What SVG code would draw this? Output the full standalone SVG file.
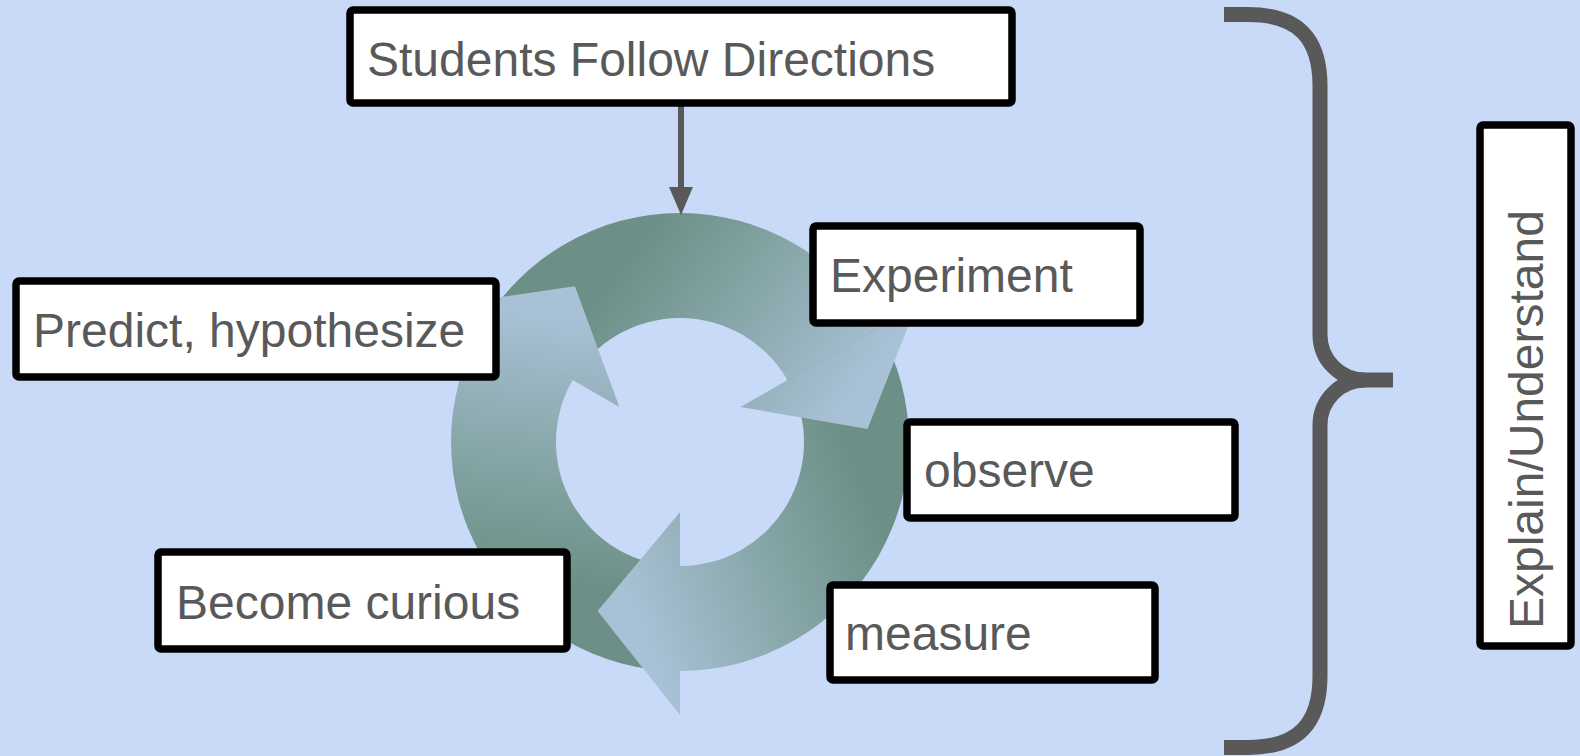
<svg xmlns="http://www.w3.org/2000/svg" xmlns:xlink="http://www.w3.org/1999/xlink" width="1580" height="756" viewBox="0 0 1580 756">
  <style>
    .box { fill: #ffffff; stroke: #000000; stroke-width: 7.5; }
    .label { font-family: "Liberation Sans", Arial, sans-serif; font-size: 48px; fill: #595959; }
    .brace { fill: none; stroke: #595959; stroke-width: 15; }
    .link { stroke: #595959; stroke-width: 6; fill: none; }
  </style>
  <defs>
    <!-- shading of one cycle arrow: dark tail to light head -->
    <linearGradient id="cycleShade" gradientUnits="userSpaceOnUse" x1="640" y1="240" x2="850" y2="400">
      <stop offset="0" stop-color="#6c9087"/>
      <stop offset="0.5" stop-color="#89a8ab"/>
      <stop offset="1" stop-color="#a9c1d6"/>
    </linearGradient>
    <!-- ring segment from -150deg to -30deg (center 680,442; radii 229/124) -->
    <path id="cycleBody" fill="url(#cycleShade)" d="M481.7,327.5 A229,229 0 0,1 878.3,327.5 L787.4,380 A124,124 0 0,0 572.6,380 Z"/>
    <!-- arrowhead at the end of the segment -->
    <path id="cycleHead" fill="url(#cycleShade)" d="M740.6,407 L916.4,305.5 L867.5,428.9 Z"/>
    <marker id="arrowhead" markerUnits="userSpaceOnUse" markerWidth="28" markerHeight="24" refX="0" refY="12" orient="auto">
      <path d="M0,0 L28,12 L0,24 Z" fill="#595959"/>
    </marker>
  </defs>

  <rect x="0" y="0" width="1580" height="756" fill="#c9daf8"/>

  <!-- circular cycle of three arrows -->
  <g id="cycle">
    <use xlink:href="#cycleBody"/>
    <use xlink:href="#cycleBody" transform="rotate(120 680 442)"/>
    <use xlink:href="#cycleBody" transform="rotate(240 680 442)"/>
    <use xlink:href="#cycleHead"/>
    <use xlink:href="#cycleHead" transform="rotate(120 680 442)"/>
    <use xlink:href="#cycleHead" transform="rotate(240 680 442)"/>
  </g>

  <g id="connectors">
    <line class="link" x1="681" y1="106" x2="681" y2="187" marker-end="url(#arrowhead)"/>
  </g>

  <g id="students">
    <rect class="box" x="350" y="10" width="662" height="93" rx="3"/>
    <text class="label" x="367" y="76">Students Follow Directions</text>
  </g>

  <g id="experiment">
    <rect class="box" x="813" y="226" width="327" height="97" rx="3"/>
    <text class="label" x="830" y="292">Experiment</text>
  </g>

  <g id="predict">
    <rect class="box" x="16" y="281" width="480" height="96" rx="3"/>
    <text class="label" x="33" y="347">Predict, hypothesize</text>
  </g>

  <g id="observe">
    <rect class="box" x="907" y="422" width="328" height="96" rx="3"/>
    <text class="label" x="924" y="487">observe</text>
  </g>

  <g id="curious">
    <rect class="box" x="158" y="552" width="409" height="97" rx="3"/>
    <text class="label" x="176" y="619">Become curious</text>
  </g>

  <g id="measure">
    <rect class="box" x="830" y="585" width="325" height="95" rx="3"/>
    <text class="label" x="845" y="650">measure</text>
  </g>

  <g id="brace">
    <path class="brace" d="M1224,14.5 H1248 C1298,14.5 1320,38 1320,86 V335 A45,45 0 0 0 1365,380 H1393"/>
    <path class="brace" d="M1365,380 A45,45 0 0 0 1320,425 V676 C1320,724 1298,747.5 1248,747.5 H1224"/>
  </g>

  <g id="explain">
    <rect class="box" x="1480" y="125" width="91" height="521" rx="3"/>
    <text class="label" transform="translate(1543,629) rotate(-90)">Explain/Understand</text>
  </g>
</svg>
